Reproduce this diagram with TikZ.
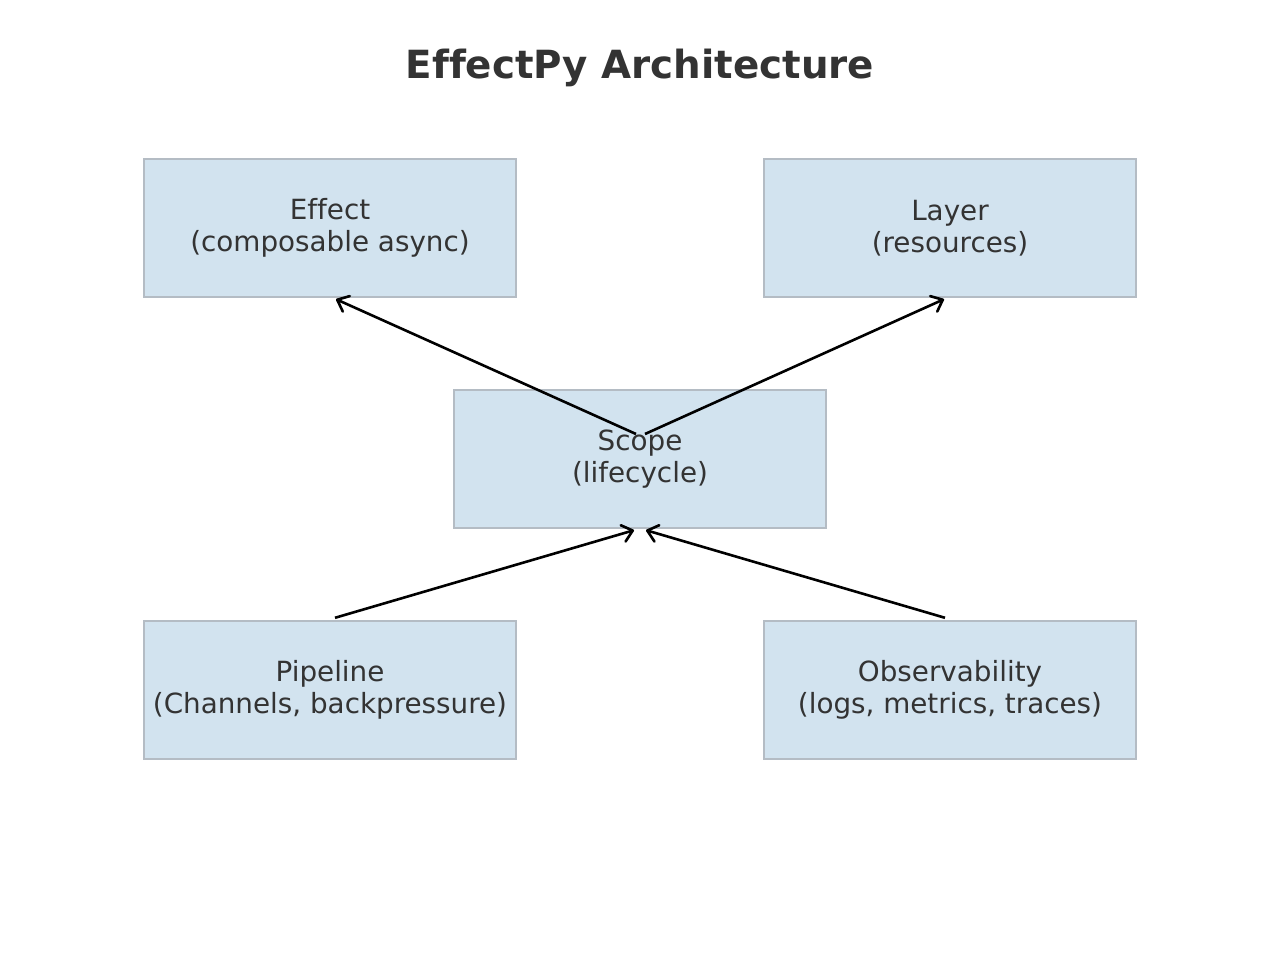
\documentclass[tikz,border=0pt]{standalone}
\usepackage{fontspec}
\setmainfont[Ligatures=NoCommon]{DejaVu Sans}
\usetikzlibrary{arrows.meta,calc}
\definecolor{boxfill}{RGB}{210,227,239}
\definecolor{boxedge}{RGB}{180,188,196}
\definecolor{txt}{RGB}{51,51,51}
\tikzset{
  comp/.style={draw=boxedge, fill=boxfill, line width=2.4pt, minimum width=372pt, minimum height=138pt, inner sep=0pt, align=center, text=txt, font=\fontsize{27.8}{32}\selectfont},
  link/.style={line width=2.6pt, black, -{Straight Barb[length=10pt,width=17pt,line width=2.6pt,round]}},
}
\begin{document}
\begin{tikzpicture}[x=1pt,y=-1pt]
\useasboundingbox (0,0) rectangle (1280,964);
\node[text=txt, font=\bfseries\fontsize{38.8}{44}\selectfont] (title) at (640,68) {EffectPy Architecture};
\node[comp] (effect) at (330,228) {Effect\\(composable async)};
\node[comp] (layer) at (950,228) {Layer\\(resources)};
\node[comp] (scope) at (640,459) {Scope\\(lifecycle)};
\node[comp] (pipeline) at (330,690) {Pipeline\\(Channels, backpressure)};
\node[comp] (obs) at (950,690) {Observability\\(logs, metrics, traces)};
\coordinate (s1) at ($(scope.center)+(-4,-25)$);
\coordinate (s2) at ($(scope.center)+(5,-25)$);
\coordinate (e1) at ($(effect.south)+(6,1)$);
\coordinate (l1) at ($(layer.south)+(-6,1)$);
\coordinate (p1) at ($(pipeline.north)+(5,-2)$);
\coordinate (o1) at ($(obs.north)+(-5,-2)$);
\coordinate (t1) at ($(scope.south)+(-6,1)$);
\coordinate (t2) at ($(scope.south)+(6,1)$);
\draw[link] (s1) -- (e1);
\draw[link] (s2) -- (l1);
\draw[link] (p1) -- (t1);
\draw[link] (o1) -- (t2);
\end{tikzpicture}
\end{document}
